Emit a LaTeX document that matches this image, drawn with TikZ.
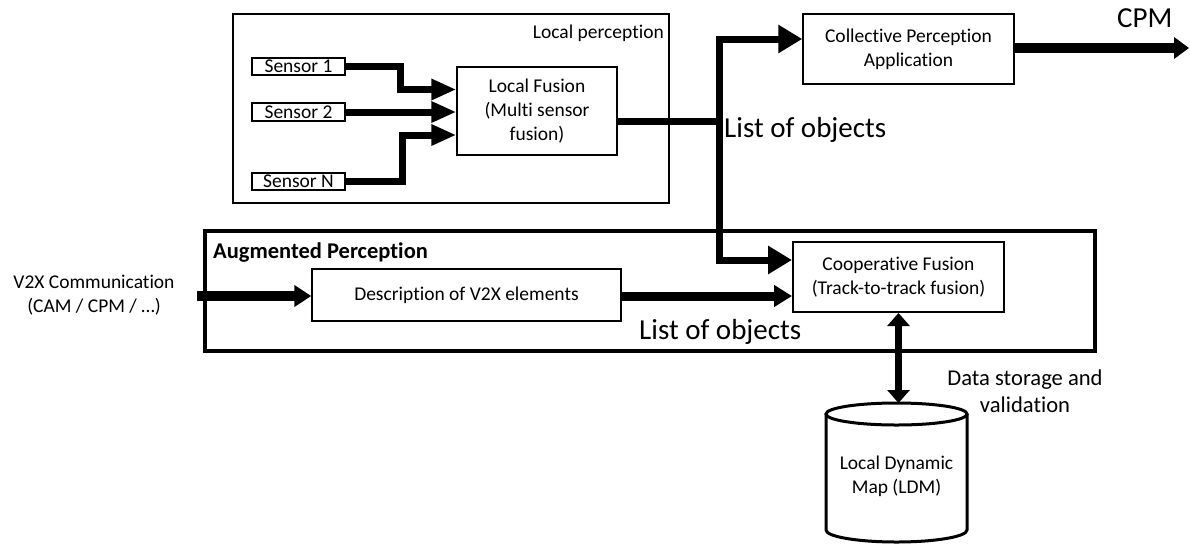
\documentclass[tikz,border=0pt]{standalone}
\usepackage{fontspec}
\setmainfont{Carlito}[Ligatures=NoCommon]
\usetikzlibrary{arrows.meta,calc}

\tikzset{
  base/.style={font=\fontsize{19.5}{24}\selectfont, align=center, inner sep=0pt},
  box/.style={base, draw, line width=1.5pt},
  sensorbox/.style={box, minimum width=93pt, minimum height=17pt},
  framebox/.style={draw, line width=1.5pt},
  augframe/.style={draw, line width=4pt},
  feed/.style={line width=7pt, -{Triangle[length=25pt,width=20pt]}},
  fused/.style={line width=7pt},
  bigfeed/.style={line width=7pt, -{Triangle[length=24pt,width=27pt]}},
  widefeed/.style={line width=10pt, -{Triangle[length=17pt,width=21pt]}},
  midfeed/.style={line width=9pt, -{Triangle[length=18pt,width=21pt]}},
  storelink/.style={line width=7pt, {Triangle[length=13pt,width=22pt]}-{Triangle[length=13pt,width=22pt]}},
  biglabel/.style={font=\fontsize{29}{34}\selectfont, inner sep=0pt},
  midlabel/.style={font=\fontsize{22.6}{27}\selectfont, align=center, inner sep=0pt},
  drum/.style={line width=3pt},
}

\begin{document}
\begin{tikzpicture}[x=1pt, y=-1pt, line join=miter]
\useasboundingbox (0,0) rectangle (1190,544);
\fill[white] (0,0) rectangle (1190,544);

% local perception frame
\draw[framebox] (233,14) rectangle (669,203);
\node[base, anchor=base east] (lplabel) at (664,38) {Local perception};

% sensors and local fusion
\node[sensorbox] (s1) at (298.5,66.5) {Sensor 1};
\node[sensorbox, minimum height=18pt] (s2) at (298.5,112) {Sensor 2};
\node[sensorbox] (sN) at (298.5,181.5) {Sensor N};
\node[box, minimum width=160pt, minimum height=88pt] (lf) at (537,111)
  {Local Fusion\\(Multi sensor\\fusion)};

\draw[feed] (s1.east) -- ++(55,0) |- ([yshift=21.5pt]lf.west);
\draw[feed] (s2.east) -- (s2.east -| lf.west);
\draw[feed] (sN.east) -- ++(57,0) |- ([yshift=-24pt]lf.west);

% collective perception application
\node[box, minimum width=211pt, minimum height=70pt] (cpa) at (908.5,49)
  {Collective Perception\\Application};
\coordinate (cpmout) at (1189,48);
\draw[line width=10pt, -{Triangle[length=15pt,width=21pt]}] (cpa.east |- cpmout) -- (cpmout);
\node[biglabel, anchor=base west] (cpm) at (1117,27) {CPM};

% augmented perception frame
\draw[augframe] (205,231) rectangle (1095,351);
\node[base, anchor=base west, font=\fontsize{22.5}{27}\selectfont\bfseries] (aplabel) at (213,258)
  {Augmented Perception};

\node[box, minimum width=309pt, minimum height=52pt] (desc) at (466.5,295)
  {Description of V2X elements};
\node[box, line width=2pt, minimum width=211pt, minimum height=70pt] (coop) at (898.5,277)
  {Cooperative Fusion\\(Track-to-track fusion)};

% local fusion output split towards both applications
\coordinate (split) at (719,121);
\draw[fused] ([yshift=-10pt]lf.east) -- ([xshift=3.5pt]split);
\draw[bigfeed] (split) |- ([yshift=10pt]cpa.west);
\draw[bigfeed] (split) |- ([yshift=17pt]coop.west);
\node[biglabel, anchor=base west] (lo1) at (724,137) {List of objects};

% V2X input
\node[base] (v2x) at (94,295) {V2X Communication\\(CAM / CPM / \dots)};
\coordinate (v2xin) at (197,296);
\draw[widefeed] (v2xin) -- (v2xin -| desc.west);
\draw[midfeed] ([yshift=-1pt]desc.east) -- ([yshift=-1pt]desc.east -| coop.west);
\node[biglabel, anchor=base west] (lo2) at (639,339) {List of objects};

% local dynamic map
\coordinate (ldmtop) at (898.5,403);
\draw[drum] (896.5,414) ellipse [x radius=70.5pt, y radius=11pt];
\draw[drum] (826,414) -- (826,530)
  arc[start angle=180, end angle=360, x radius=70.5pt, y radius=12pt] -- (967,414);
\node[base] (ldm) at (896.5,476) {Local Dynamic\\Map (LDM)};
\draw[storelink] (coop.south) -- (ldmtop);
\node[midlabel] (store) at (1025,391) {Data storage and\\validation};
\end{tikzpicture}
\end{document}
